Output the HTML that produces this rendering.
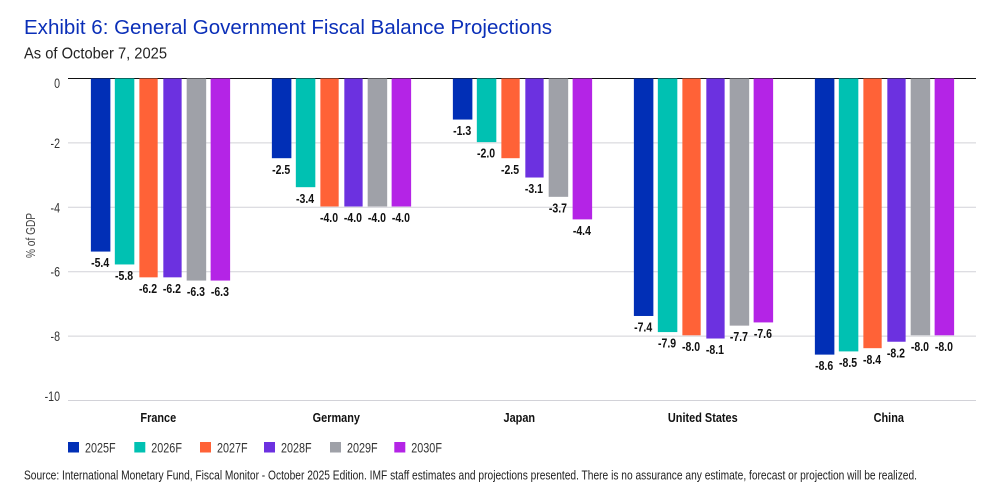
<!DOCTYPE html>
<html lang="en">
<head>
<meta charset="utf-8">
<title>Exhibit 6: General Government Fiscal Balance Projections</title>
<style>
html,body{margin:0;padding:0;background:#fff;width:989px;height:499px;overflow:hidden}
svg{display:block}
text{font-family:"Liberation Sans",sans-serif}
</style>
</head>
<body>
<svg id="chart" width="989" height="499" viewBox="0 0 989 499" xmlns="http://www.w3.org/2000/svg">
  <text x="24" y="34" font-size="20.5" fill="#0b2fb8" textLength="528" lengthAdjust="spacingAndGlyphs">Exhibit 6: General Government Fiscal Balance Projections</text>
  <text x="24" y="58.5" font-size="15.5" fill="#222" textLength="143" lengthAdjust="spacingAndGlyphs">As of October 7, 2025</text>
  <text transform="translate(35,235.5) rotate(-90)" text-anchor="middle" font-size="13" fill="#444" textLength="45" lengthAdjust="spacingAndGlyphs">% of GDP</text>
  <g id="grid"></g>
  <g id="bars"></g>
  <g id="legend"></g>
  <text x="24" y="479.5" font-size="12.5" fill="#222" textLength="893" lengthAdjust="spacingAndGlyphs">Source: International Monetary Fund, Fiscal Monitor - October 2025 Edition. IMF staff estimates and projections presented. There is no assurance any estimate, forecast or projection will be realized.</text>
</svg>
<script>
const categories = ['France', 'Germany', 'Japan', 'United States', 'China'];
const seriesNames = ['2025F', '2026F', '2027F', '2028F', '2029F', '2030F'];
const seriesColors = ['#012fb6', '#00c1b2', '#ff6237', '#6c31e0', '#9fa1a8', '#b424e6'];
const values2025 = [-5.4, -2.5, -1.3, -7.4, -8.6];
const values2026 = [-5.8, -3.4, -2.0, -7.9, -8.5];
const values2027 = [-6.2, -4.0, -2.5, -8.0, -8.4];
const values2028 = [-6.2, -4.0, -3.1, -8.1, -8.2];
const values2029 = [-6.3, -4.0, -3.7, -7.7, -8.0];
const values2030 = [-6.3, -4.0, -4.4, -7.6, -8.0];
const yTicks = [0, -2, -4, -6, -8, -10];

const allSeries = [values2025, values2026, values2027, values2028, values2029, values2030];
const NS = 'http://www.w3.org/2000/svg';
const plotLeft = 68, plotRight = 976, zeroY = 78.5, unitPx = 32.2;
const y = v => zeroY - v * unitPx;
const groupCenter = i => 160.5 + 181 * i;
const barStep = 23.95;
const barWidthFor = s => (s === 2 || s === 3) ? 18.3 : 19.5;
const barCenter = (g, s) => groupCenter(g) + (s - (seriesNames.length - 1) / 2) * barStep;
const categoryLabelShift = i => [-2.2, -5.2, -3.2, -0.7, 4.3][i];

function make(tag, attrs, parent) {
  const el = document.createElementNS(NS, tag);
  for (const k in attrs) el.setAttribute(k, attrs[k]);
  parent.appendChild(el);
  return el;
}
function condensed(parent, txt, cx, baseline, size, scale, weight, fill, anchor) {
  const t = make('text', {
    transform: 'translate(' + cx + ',' + baseline + ') scale(' + scale + ',1)',
    'text-anchor': anchor,
    'font-size': size,
    'font-weight': weight,
    fill: fill
  }, parent);
  t.textContent = txt;
  return t;
}

const grid = document.getElementById('grid');
yTicks.forEach(function (t) {
  const line = make('line', {
    x1: plotLeft, x2: plotRight, y1: y(t), y2: y(t),
    stroke: t === 0 ? '#111' : '#d2d2d8',
    'stroke-width': 1
  }, grid);
  
  
  const labelCenter = Math.min(396, Math.max(83, y(t)));
  const lab = condensed(grid, String(t), 60, labelCenter + 5, 14, 0.76, 'normal', '#333', 'end');
  
  
});

const barsLayer = document.getElementById('bars');
categories.forEach(function (cat, g) {
  allSeries.forEach(function (vals, s) {
    const v = vals[g];
    const cx = barCenter(g, s);
    const w = barWidthFor(s);
    const r = make('rect', {
      x: cx - w / 2,
      y: y(0),
      width: w,
      height: y(v) - y(0) - 0.8,
      fill: seriesColors[s]
    }, barsLayer);
    
    
    const lab = condensed(barsLayer, v.toFixed(1), cx - 0.5, y(v) + 14.8, 12.5, 0.84, 'bold', '#111', 'middle');
    
    
  });
  const cl = condensed(barsLayer, cat, groupCenter(g) + categoryLabelShift(g), 422, 13, 0.84, 'bold', '#111', 'middle');
  
  
});

const legend = document.getElementById('legend');
const legendSwatchX = [68, 134.3, 200, 264, 330, 394.3];
seriesNames.forEach(function (name, i) {
  const sw = make('rect', { x: legendSwatchX[i], y: 442, width: 11, height: 10.5, fill: seriesColors[i] }, legend);
  
  
  const lab = condensed(legend, name, legendSwatchX[i] + 17, 452.5, 13.5, 0.8, 'normal', '#333', 'start');
  
  
});
</script>
</body>
</html>
